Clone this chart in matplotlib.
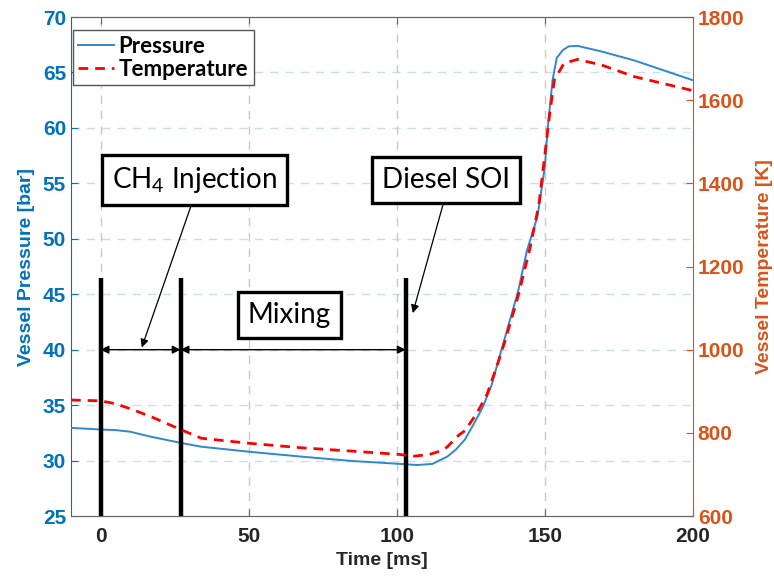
import matplotlib
matplotlib.use("Agg")
import matplotlib.pyplot as plt
from matplotlib.lines import Line2D

# Pressure trace (left axis)
time_p = [-10, 0, 5, 10, 17, 27, 34, 50, 68, 85, 95, 101, 107, 112, 117, 120,
          123, 126, 129, 132, 136, 141, 144, 147.5, 150, 151, 152.6, 154, 156,
          158, 161, 169, 180, 190, 200]
pressure = [32.95, 32.8, 32.75, 32.6, 32.15, 31.6, 31.25, 30.8, 30.35, 29.96,
            29.8, 29.7, 29.6, 29.7, 30.35, 31.0, 31.9, 33.3, 34.8, 36.8, 40.6,
            45.3, 49.0, 52.0, 56.5, 60.1, 64.3, 66.3, 67.0, 67.35, 67.4, 66.9,
            66.1, 65.2, 64.3]

# Temperature trace (right axis)
time_t = [-10, 0, 5, 10, 17, 27, 34, 50, 68, 85, 95, 101, 106, 111, 115, 117,
          121, 123, 127, 130.5, 134, 136.5, 141, 145, 148, 150.3, 151.5, 153.2,
          156.5, 161, 169, 180, 190, 200]
temperature = [879, 877, 870, 858, 839, 808, 787, 775, 764, 756, 751, 748, 744,
               748, 757, 766, 795, 805, 847, 893, 965, 1020, 1130, 1245, 1350,
               1488, 1560, 1649, 1689, 1698, 1685, 1657, 1640, 1623]

# Event markers
event_times = [0, 27, 103]
event_top = 46.5
arrow_level = 40

BLUE = "#0072BD"
ORANGE = "#D95319"
DARK = "#262626"

plt.rcParams["font.family"] = ["Liberation Sans", "DejaVu Sans"]
plt.rcParams["mathtext.fontset"] = "custom"
plt.rcParams["mathtext.rm"] = "Lato"
plt.rcParams["mathtext.it"] = "Lato:italic"

fig = plt.figure(figsize=(7.74, 5.77), dpi=100)
ax1 = fig.add_axes([0.0917, 0.1057, 0.8036, 0.8648])
ax2 = ax1.twinx()

# Curves
p_line, = ax1.plot(time_p, pressure, color="#2f88cc", lw=1.4, zorder=3)
t_line, = ax2.plot(time_t, temperature, color="#ff0000", lw=2.0,
                   linestyle=(0, (3.5, 2.5)), zorder=3)

ax1.set_xlim(-10, 200)
ax1.set_ylim(25, 70)
ax2.set_ylim(600, 1800)
ax1.set_xticks([0, 50, 100, 150, 200])
ax1.set_yticks(range(25, 71, 5))
ax2.set_yticks(range(600, 1801, 200))

# Grid: light blue horizontal, gray vertical
for y in range(30, 70, 5):
    ax1.axhline(y, color="#c9def0", lw=1.0, linestyle=(0, (6, 5)), zorder=0)
for x in [0, 50, 100, 150]:
    ax1.axvline(x, color="#c8c8c8", lw=1.0, linestyle=(0, (6, 5)), zorder=0)

# Spines and ticks
ax1.spines["left"].set_color(BLUE)
ax2.spines["left"].set_visible(False)
ax2.spines["right"].set_color(ORANGE)
ax1.spines["right"].set_visible(False)
for ax in (ax1, ax2):
    ax.spines["top"].set_color("#666666")
    ax.spines["bottom"].set_color("#666666")
ax1.tick_params(axis="x", direction="in", length=5, colors="#666666",
                labelcolor=DARK, labelsize=15, top=True, pad=8)
ax1.tick_params(axis="y", direction="in", length=5, colors=BLUE,
                labelcolor=BLUE, labelsize=15)
ax2.tick_params(axis="y", direction="in", length=5, colors=ORANGE,
                labelcolor=ORANGE, labelsize=15)
for lab in ax1.get_xticklabels() + ax1.get_yticklabels() + ax2.get_yticklabels():
    lab.set_fontweight("bold")

ax1.set_xlabel("Time [ms]", fontsize=14, fontweight="bold", color=DARK,
               labelpad=4)
ax1.set_ylabel("Vessel Pressure [bar]", fontsize=14, fontweight="bold",
               color=BLUE, labelpad=6)
ax2.set_ylabel("Vessel Temperature [K]", fontsize=14, fontweight="bold",
               color=ORANGE, labelpad=8)

# Event lines
ax1.vlines(event_times, 25, event_top, color="black", lw=3.2, zorder=4)

# Double-headed arrows for durations
for x0, x1 in [(event_times[0], event_times[1]), (event_times[1], event_times[2])]:
    ax1.annotate("", xy=(x1, arrow_level), xytext=(x0, arrow_level),
                 arrowprops=dict(arrowstyle="<|-|>", color="black", lw=1.0,
                                 mutation_scale=12, shrinkA=0, shrinkB=0),
                 zorder=5)

box = dict(boxstyle="square,pad=0.36", facecolor="white", edgecolor="black",
           linewidth=2.4)
txt_kw = dict(fontsize=20, family="Lato", ha="center", va="center", bbox=box,
              zorder=6)

ax1.annotate("CH$_4$ Injection", xy=(13.9, 40.2), xytext=(31.8, 55.3),
             arrowprops=dict(arrowstyle="-|>", color="black", lw=0.9,
                             mutation_scale=12, shrinkA=0, shrinkB=0,
                             relpos=(0.5, 0.0)),
             **txt_kw)
ax1.annotate("Diesel SOI", xy=(105.4, 43.3), xytext=(116.7, 55.3),
             arrowprops=dict(arrowstyle="-|>", color="black", lw=0.9,
                             mutation_scale=12, shrinkA=0, shrinkB=0,
                             relpos=(0.5, 0.0)),
             **txt_kw)
ax1.text(63.7, 43.1, "Mixing", **txt_kw)

# Legend
handles = [Line2D([], [], color="#2f88cc", lw=1.4),
           Line2D([], [], color="#ff0000", lw=2.0, linestyle=(0, (3.5, 2.5)))]
leg = ax2.legend(handles, ["Pressure", "Temperature"], loc="upper left",
                 bbox_to_anchor=(0.003, 0.974), borderaxespad=0,
                 prop=dict(family="Lato", weight="bold", size=16),
                 fancybox=False, edgecolor="#555555", framealpha=1,
                 handlelength=1.6, handletextpad=0.2, labelspacing=0.1,
                 borderpad=0.25)
leg.get_frame().set_linewidth(1.0)
leg.set_zorder(10)

fig.savefig("out.png", dpi=100)
